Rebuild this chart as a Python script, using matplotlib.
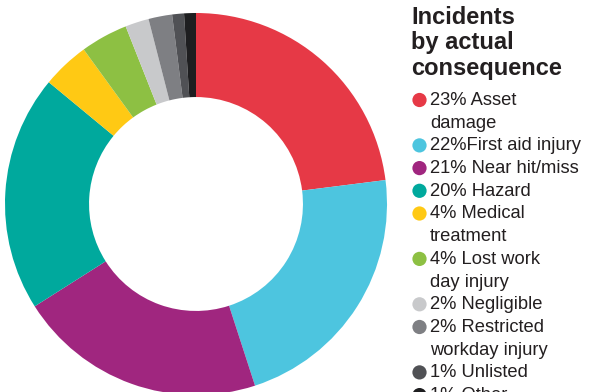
import matplotlib.pyplot as plt

plt.rcParams['font.family'] = ['Liberation Sans', 'DejaVu Sans']

# data
labels = ["23% Asset\ndamage", "22%First aid injury", "21% Near hit/miss", "20% Hazard",
          "4% Medical\ntreatment", "4% Lost work\nday injury", "2% Negligible",
          "2% Restricted\nworkday injury", "1% Unlisted", "1% Other"]
values = [23, 22, 21, 20, 4, 4, 2, 2, 1, 1]
colors = ["#E63946", "#4DC5DF", "#A0267F", "#00A99D", "#FFC914", "#8DC043",
          "#C8C9CB", "#7E7F83", "#505155", "#1E1E20"]
title = "Incidents\nby actual\nconsequence"

W, H = 591, 392
fig = plt.figure(figsize=(W / 100, H / 100), dpi=100)

# donut, centre (196, 204) px, radius 191 px
cx, cy, r = 196, 204, 191
ax = fig.add_axes([(cx - r) / W, (H - cy - r) / H, 2 * r / W, 2 * r / H])
ax.pie(values, colors=colors, startangle=90, counterclock=False, radius=1,
       wedgeprops=dict(width=0.44, edgecolor='none'))
ax.set_xlim(-1, 1)
ax.set_ylim(-1, 1)
ax.set_aspect('equal')
ax.axis('off')

# legend drawn in pixel coordinates
lx = fig.add_axes([0, 0, 1, 1], zorder=3)
lx.set_xlim(0, W)
lx.set_ylim(H, 0)
lx.axis('off')

lx.text(411, 6, title, fontsize=17, fontweight='bold', color='#231F20',
        va='top', ha='left', linespacing=1.13)

y = 100
step = 22.7
for lab, col in zip(labels, colors):
    lx.scatter([419.5], [y], s=105, color=col, edgecolor='none')
    for line in lab.split("\n"):
        lx.text(430, y + 0.5, line, fontsize=13.2, color='#231F20', va='center', ha='left')
        y += step

fig.savefig("out.png", dpi=100)
